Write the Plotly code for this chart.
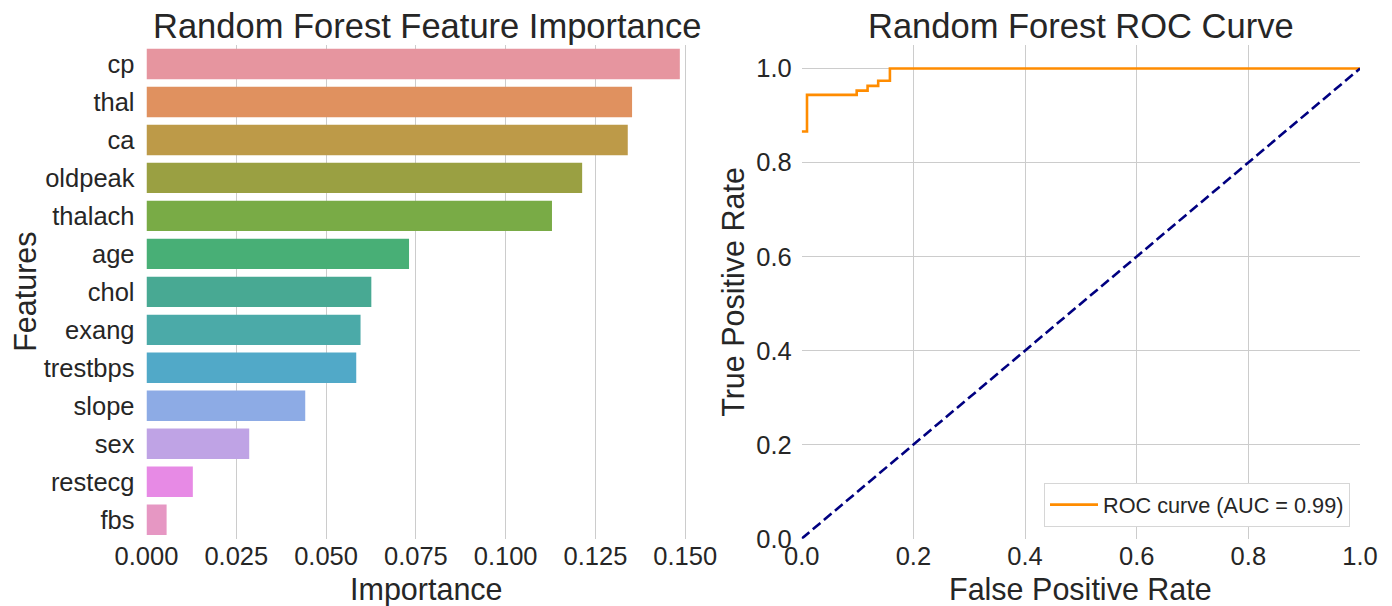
import plotly.graph_objects as go

# ---- data -------------------------------------------------------------
features = ["cp", "thal", "ca", "oldpeak", "thalach", "age", "chol",
            "exang", "trestbps", "slope", "sex", "restecg", "fbs"]
importance = [0.1485, 0.1352, 0.1340, 0.1213, 0.1129, 0.0731, 0.0626,
              0.0596, 0.0584, 0.0442, 0.0286, 0.0129, 0.0056]
bar_colors = ["#E6959F", "#E0915F", "#BD9A48", "#9AA042", "#79AB46",
              "#48AF76", "#48A993", "#4BAAA8", "#51A9C8", "#8DABE5",
              "#BFA3E5", "#E78AE5", "#E697C3"]

# ROC curve corner points
fpr = [0.0, 0.0095, 0.0095, 0.0985, 0.0985, 0.118, 0.118, 0.137, 0.137,
       0.158, 0.158, 1.0]
tpr = [0.866, 0.866, 0.944, 0.944, 0.953, 0.953, 0.963, 0.963, 0.974,
       0.974, 1.0, 1.0]
roc_auc = 0.99
chance = [0.0, 1.0]

imp_ticks = [0.0, 0.025, 0.05, 0.075, 0.1, 0.125, 0.15]
rate_ticks = [0.0, 0.2, 0.4, 0.6, 0.8, 1.0]

# ---- styling ----------------------------------------------------------
W, H = 1392, 606
FONT = "Liberation Sans, Arial, sans-serif"
TXT = "#262626"
GRID = "#cccccc"
TICK_SIZE = 25.5
LABEL_SIZE = 30.5
TITLE_SIZE = 34.5

left_px = (146.5, 706.5)
right_px = (801.7, 1360.0)
top_px, bottom_px = 45.0, 538.7

xdom1 = [left_px[0] / W, left_px[1] / W]
xdom2 = [right_px[0] / W, right_px[1] / W]
ydom = [(H - bottom_px) / H, (H - top_px) / H]

fig = go.Figure()

fig.add_trace(go.Bar(
    x=importance, y=features, orientation="h",
    marker=dict(color=bar_colors, line=dict(width=0)),
    width=0.8, showlegend=False, xaxis="x", yaxis="y",
))

fig.add_trace(go.Scatter(
    x=fpr, y=tpr, mode="lines",
    line=dict(color="darkorange", width=2.6),
    name=f"ROC curve (AUC = {roc_auc:.2f})",
    xaxis="x2", yaxis="y2",
))
fig.add_trace(go.Scatter(
    x=chance, y=chance, mode="lines",
    line=dict(color="navy", width=2.6, dash="10px,4.5px"),
    showlegend=False, xaxis="x2", yaxis="y2",
))

tickfont = dict(family=FONT, size=TICK_SIZE, color=TXT)
common = dict(showline=False, ticks="", tickfont=tickfont,
              gridcolor=GRID, gridwidth=1.2, automargin=False,
              zeroline=True, zerolinecolor="rgba(0,0,0,0)")

fig.update_layout(
    template="none",
    width=W, height=H,
    margin=dict(l=0, r=0, t=0, b=0, autoexpand=False),
    paper_bgcolor="white", plot_bgcolor="white",
    font=dict(family=FONT, color=TXT),
    bargap=0.2,
    xaxis=dict(domain=xdom1, anchor="y",
               range=[0, max(importance) * 1.05],
               tickvals=imp_ticks,
               ticktext=[f"{v:.3f}" for v in imp_ticks],
               showgrid=True, ticklabelstandoff=0, **common),
    yaxis=dict(domain=ydom, anchor="x", type="category",
               categoryorder="array", categoryarray=features,
               range=[len(features) - 0.5, -0.5],
               showgrid=False, ticklabelstandoff=11, **common),
    xaxis2=dict(domain=xdom2, anchor="y2", range=[0, 1],
                tickvals=rate_ticks,
                ticktext=[f"{v:.1f}" for v in rate_ticks],
                showgrid=True, ticklabelstandoff=0, **common),
    yaxis2=dict(domain=ydom, anchor="x2", range=[0, 1.05],
                tickvals=rate_ticks,
                ticktext=[f"{v:.1f}" for v in rate_ticks],
                showgrid=True, ticklabelstandoff=9, **common),
    legend=dict(
        x=1350 / W, y=(H - 527) / H, xanchor="right", yanchor="bottom",
        bgcolor="white", bordercolor="#d6d6d6", borderwidth=1,
        itemwidth=48,
        font=dict(family=FONT, size=21.7, color=TXT),
    ),
)

def text(x_px, y_px, s, size, angle=0):
    fig.add_annotation(
        x=x_px / W, y=(H - y_px) / H, xref="paper", yref="paper",
        text=s, showarrow=False, textangle=angle,
        xanchor="center", yanchor="middle",
        font=dict(family=FONT, size=size, color=TXT),
    )

# titles
text(sum(left_px) / 2, 26, "Random Forest Feature Importance", TITLE_SIZE)
text(sum(right_px) / 2, 26, "Random Forest ROC Curve", TITLE_SIZE)
# axis titles
text(sum(left_px) / 2, 589, "Importance", LABEL_SIZE)
text(sum(right_px) / 2, 589, "False Positive Rate", LABEL_SIZE)
text(25, (top_px + bottom_px) / 2, "Features", LABEL_SIZE, -90)
text(733, (top_px + bottom_px) / 2, "True Positive Rate", LABEL_SIZE, -90)

fig.write_html("out.html")
